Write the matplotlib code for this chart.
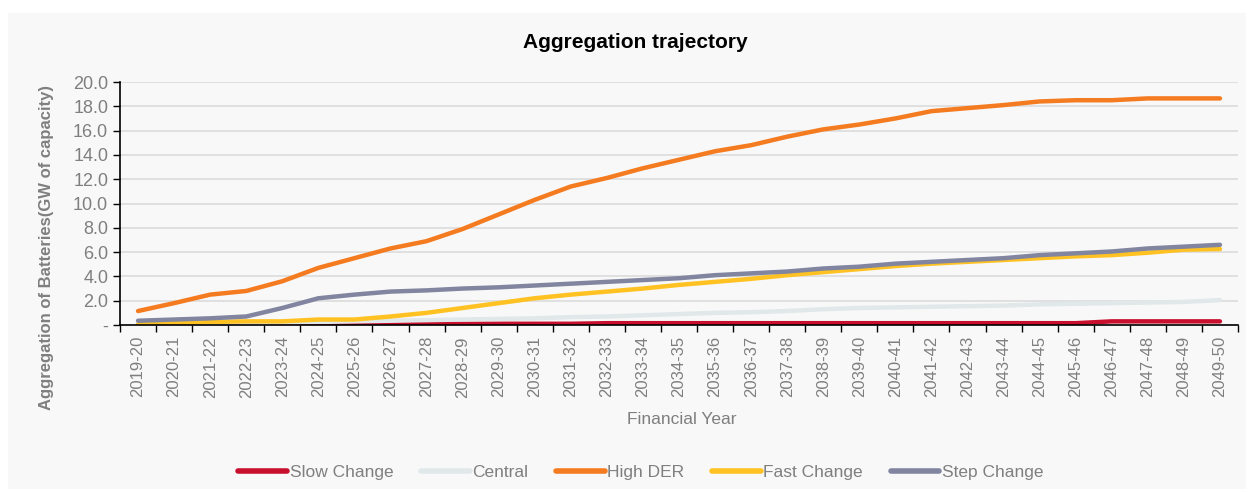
import matplotlib
matplotlib.use("Agg")
import matplotlib.pyplot as plt
import matplotlib.patches as patches
from matplotlib.ticker import FixedLocator

plt.rcParams['font.family'] = ['Liberation Sans', 'DejaVu Sans']

years = ['%d-%02d' % (y, (y + 1) % 100) for y in range(2019, 2050)]

slow_change = [0, 0, 0, 0, 0, 0, 0.03, 0.05, 0.1, 0.1, 0.1, 0.1, 0.1, 0.15, 0.15, 0.15,
               0.15, 0.15, 0.15, 0.15, 0.15, 0.15, 0.15, 0.15, 0.15, 0.15, 0.15, 0.3,
               0.3, 0.3, 0.3]
central = [0, 0.05, 0.1, 0.15, 0.2, 0.25, 0.3, 0.35, 0.4, 0.45, 0.5, 0.55, 0.65, 0.7,
           0.8, 0.9, 1.0, 1.05, 1.15, 1.3, 1.4, 1.45, 1.5, 1.55, 1.6, 1.7, 1.75, 1.8,
           1.85, 1.9, 2.05]
high_der = [1.15, 1.8, 2.5, 2.8, 3.6, 4.7, 5.5, 6.3, 6.9, 7.9, 9.1, 10.3, 11.4, 12.1,
            12.9, 13.6, 14.3, 14.8, 15.5, 16.1, 16.5, 17.0, 17.6, 17.85, 18.1, 18.4,
            18.5, 18.5, 18.65, 18.65, 18.65]
fast_change = [0.05, 0.15, 0.25, 0.3, 0.3, 0.45, 0.45, 0.7, 1.0, 1.4, 1.8, 2.2, 2.5,
               2.75, 3.0, 3.3, 3.55, 3.8, 4.1, 4.35, 4.6, 4.85, 5.05, 5.2, 5.35, 5.5,
               5.65, 5.75, 5.95, 6.2, 6.25]
step_change = [0.35, 0.45, 0.55, 0.7, 1.4, 2.2, 2.5, 2.75, 2.85, 3.0, 3.1, 3.25, 3.4,
               3.55, 3.7, 3.85, 4.1, 4.25, 4.4, 4.65, 4.8, 5.05, 5.2, 5.35, 5.5, 5.75,
               5.9, 6.05, 6.3, 6.45, 6.6]

series = [('Slow Change', slow_change, '#c8102e'),
          ('Central', central, '#e1e8ea'),
          ('High DER', high_der, '#f47b20'),
          ('Fast Change', fast_change, '#ffc222'),
          ('Step Change', step_change, '#8185a0')]

grey = '#7f7f7f'

fig = plt.figure(figsize=(12.5, 4.94), dpi=100)
# light grey chart area behind everything
bg = patches.Rectangle((8 / 1250, 1 - 489 / 494), 1238 / 1250, 476 / 494,
                       transform=fig.transFigure, facecolor='#f8f8f8',
                       edgecolor='none', zorder=-10)
fig.patches.append(bg)
ax = fig.add_axes([120 / 1250, 1 - 325 / 494, 1118 / 1250, 243 / 494], zorder=1)
ax.set_facecolor('none')

x = list(range(len(years)))
for name, vals, col in series:
    ax.plot(x, vals, color=col, lw=3.2, solid_capstyle='round', label=name)

ax.set_xlim(-0.5, len(years) - 0.5)
ax.set_ylim(0, 20)
ax.set_yticks(range(0, 21, 2))
ax.set_yticklabels(['-'] + ['%.1f' % v for v in range(2, 21, 2)])
ax.yaxis.grid(True, color='#dcdcdc', lw=1.2)
ax.set_axisbelow(True)

ax.set_xticks(x)
ax.set_xticklabels(years, rotation=90)
ax.xaxis.set_minor_locator(FixedLocator([i - 0.5 for i in range(len(years) + 1)]))
ax.tick_params(axis='x', which='major', length=0, pad=8, labelsize=12, labelcolor=grey)
ax.tick_params(axis='x', which='minor', length=5, width=1, color='black')
ax.tick_params(axis='y', length=5, width=1, color='black', labelsize=13, labelcolor=grey)

for s in ['top', 'right']:
    ax.spines[s].set_visible(False)
for s in ['left', 'bottom']:
    ax.spines[s].set_color('black')
    ax.spines[s].set_linewidth(1.2)

fig.text(635 / 1250, 1 - 43 / 494, 'Aggregation trajectory', ha='center', va='center',
         fontsize=15, fontweight='bold', color='black')
fig.text(47 / 1250, 1 - 247 / 494, 'Aggregation of Batteries(GW of capacity)',
         rotation=90, ha='center', va='center', fontsize=12, fontweight='bold', color=grey)
fig.text(682 / 1250, 1 - 419 / 494, 'Financial Year', ha='center', va='center',
         fontsize=12.5, color=grey)

leg = fig.legend(loc='center', bbox_to_anchor=(641 / 1250, 1 - 472 / 494), ncol=5,
                 frameon=False, fontsize=12.5, handlelength=2.8, handletextpad=0.15,
                 columnspacing=1.6)
for t in leg.get_texts():
    t.set_color(grey)
for h in leg.get_lines():
    h.set_linewidth(4)

fig.savefig('out.png', dpi=100, facecolor='white')
